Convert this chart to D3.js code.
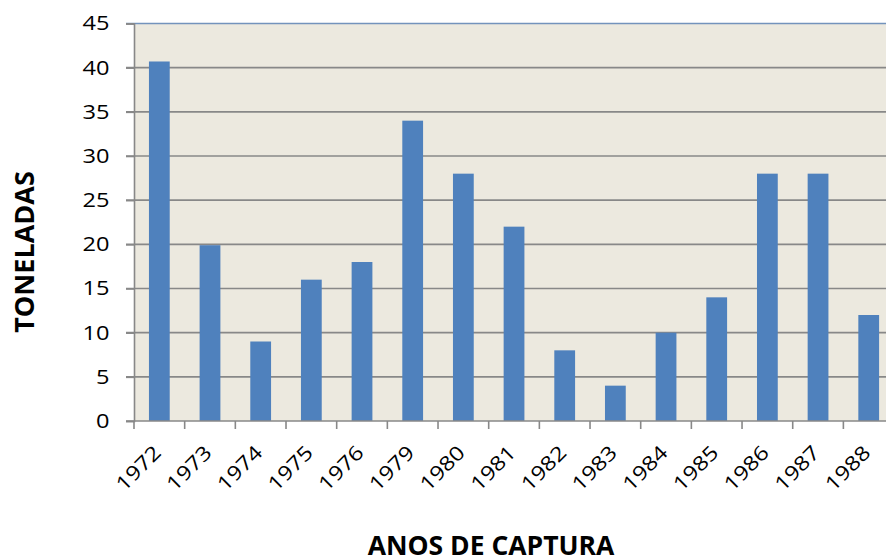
<!DOCTYPE html>
<html lang="pt">
<head>
    <meta charset="UTF-8">
    <title>Toneladas por ano de captura</title>
    <script src="https://d3js.org/d3.v7.min.js"></script>
    <style>
        body { margin: 0; background: #fff; }
        text { font-family: "Open Sans", "Liberation Sans", sans-serif; fill: #000; }
    </style>
</head>
<body>
    <div id="grafico"></div>
    <script>
        const anos = ["1972", "1973", "1974", "1975", "1976", "1979", "1980", "1981",
                      "1982", "1983", "1984", "1985", "1986", "1987", "1988"];
        const toneladas = [40.7, 19.9, 9, 16, 18, 34, 28, 22, 8, 4, 10, 14, 28, 28, 12];
        const ticksY = [0, 5, 10, 15, 20, 25, 30, 35, 40, 45];

        const largura = 886;
        const altura = 559;
        // a área do gráfico continua além da borda direita, como no original
        const margem = { esquerda: 134, topo: 23.5, base: 421 };
        const passo = 50.67;
        const esticar = 1.18; // a fonte original é mais larga que a Open Sans

        const svg = d3.select("#grafico")
            .append("svg")
            .attr("width", largura)
            .attr("height", altura);

        const x = d3.scaleBand()
            .domain(anos)
            .range([margem.esquerda, margem.esquerda + passo * anos.length])
            .padding(0);

        const y = d3.scaleLinear()
            .domain([0, 45])
            .range([margem.base, margem.topo]);

        // fundo da área de plotagem
        svg.append("rect")
            .attr("x", x.range()[0])
            .attr("y", y(45))
            .attr("width", x.range()[1] - x.range()[0])
            .attr("height", y(0) - y(45))
            .attr("fill", "#ECE9DF");

        // linhas de grade
        svg.selectAll(".grade")
            .data(ticksY.filter(d => d > 0))
            .enter()
            .append("line")
            .attr("x1", margem.esquerda - 8)
            .attr("x2", x.range()[1])
            .attr("y1", d => y(d))
            .attr("y2", d => y(d))
            .attr("stroke", d => d === 45 ? "#7393BC" : "#888888")
            .attr("stroke-width", 1.6);

        // barras
        const larguraBarra = x.bandwidth() * 0.41;
        svg.selectAll(".barra")
            .data(toneladas)
            .enter()
            .append("rect")
            .attr("x", (d, i) => x(anos[i]) + x.bandwidth() / 2 - larguraBarra / 2)
            .attr("y", d => y(d))
            .attr("width", larguraBarra)
            .attr("height", d => y(0) - y(d))
            .attr("fill", "#4F81BD");

        // eixo Y
        const eixoY = svg.append("g")
            .attr("transform", `translate(${margem.esquerda},0)`)
            .call(d3.axisLeft(y).tickValues(ticksY).tickSize(8));
        eixoY.select(".domain").attr("stroke", "#888888").attr("stroke-width", 1.6);
        eixoY.selectAll(".tick line").attr("stroke", "#888888").attr("stroke-width", 1.6);
        eixoY.selectAll(".tick text")
            .attr("font-size", 20)
            .attr("fill", "#000")
            .attr("x", 0)
            .attr("transform", `translate(-24.5,0) scale(${esticar},1)`);

        // eixo X
        const eixoX = svg.append("g")
            .attr("transform", `translate(0,${margem.base})`)
            .call(d3.axisBottom(x).tickSize(0).tickPadding(0));
        eixoX.select(".domain").remove();
        eixoX.append("line")
            .attr("x1", margem.esquerda - 8)
            .attr("x2", x.range()[1])
            .attr("stroke", "#888888")
            .attr("stroke-width", 1.6);
        eixoX.selectAll(".marca")
            .data(anos)
            .enter()
            .append("line")
            .attr("x1", d => x(d))
            .attr("x2", d => x(d))
            .attr("y1", 0)
            .attr("y2", 8)
            .attr("stroke", "#888888")
            .attr("stroke-width", 1.6);
        eixoX.selectAll(".tick text")
            .attr("font-size", 20)
            .attr("fill", "#000")
            .attr("text-anchor", "end")
            .attr("y", 0)
            .attr("dy", 0)
            .attr("transform", `translate(3,33) rotate(-45) scale(${esticar},1)`);

        // títulos dos eixos
        svg.append("text")
            .attr("transform", "translate(34,252) rotate(-90)")
            .attr("text-anchor", "middle")
            .attr("font-size", 27)
            .attr("font-weight", "bold")
            .text("TONELADAS");

        svg.append("text")
            .attr("x", 491)
            .attr("y", 555)
            .attr("text-anchor", "middle")
            .attr("font-size", 26.5)
            .attr("font-weight", "bold")
            .text("ANOS DE CAPTURA");
    </script>
</body>
</html>
